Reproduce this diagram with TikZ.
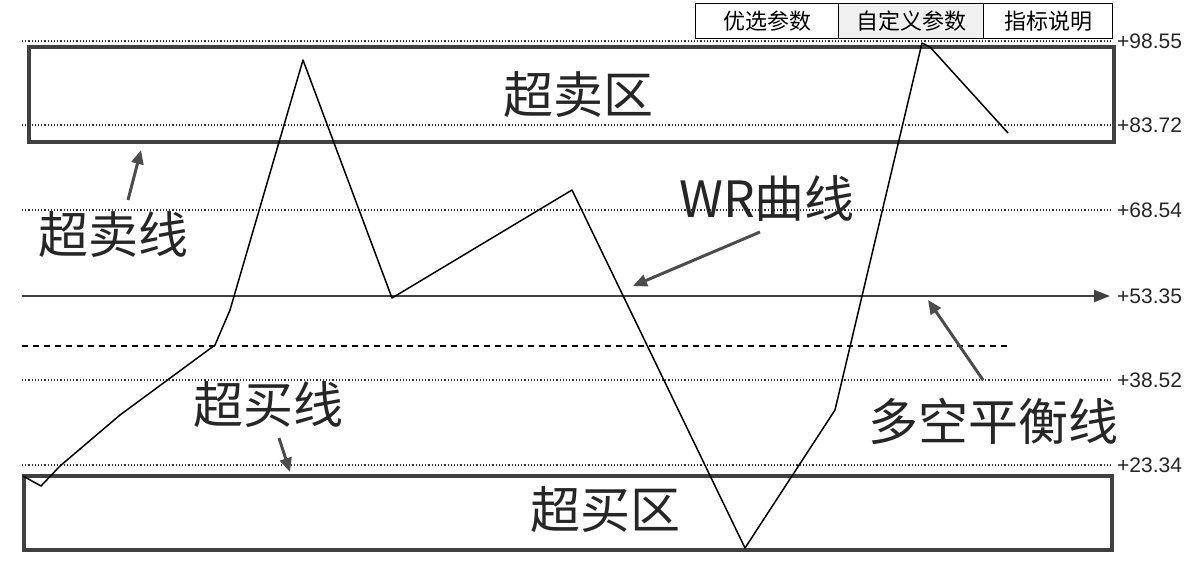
\documentclass[tikz,border=0pt]{standalone}
\usepackage{fontspec}
\setmainfont{Noto Sans CJK SC}
\newfontfamily\lab{Liberation Sans}
\usetikzlibrary{arrows.meta}
\tikzset{
 dotl/.style={dotted, line width=1.2pt, black!80},
 zone/.style={draw=black!75, line width=4pt},
 big/.style={font=\fontsize{50}{50}\selectfont, text=black!85, inner sep=0},
 tick/.style={font=\lab\fontsize{21}{21}\selectfont, anchor=west, inner sep=0, text=black!85},
 btn/.style={draw=black, line width=1pt, font=\fontsize{22}{22}\selectfont, inner sep=0, minimum height=35pt},
 callout/.style={-{Triangle[length=14pt,width=12pt]}, line width=3pt, draw=black!70},
}
\begin{document}
\begin{tikzpicture}[x=1pt,y=-1pt]
\useasboundingbox (0,0) rectangle (1202,566);
% buttons
\node[btn, minimum width=143pt, anchor=north west] (b1) at (695,3) {优选参数};
\node[btn, minimum width=145pt, fill=black!6, anchor=north west] (b2) at (838,3) {自定义参数};
\node[btn, minimum width=129pt, anchor=north west] (b3) at (983,3) {指标说明};
% grid lines
\draw[dotl] (22,41) -- (1112,41);
\draw[dotl] (22,125) -- (1112,125);
\draw[dotl] (22,210) -- (1112,210);
\draw[dotl] (22,380) -- (1112,380);
\draw[dotl] (22,465) -- (1112,465);
\draw[dashed, line width=1.3pt, dash pattern=on 6pt off 5pt] (22,346) -- (1008,346);
\coordinate (bs) at (22,296);
\coordinate (be) at (1110,296);
\draw[line width=2pt, black!75, -{Triangle[length=16pt,width=12pt]}] (bs) -- (be);
% ticks
\node[tick] (t1) at (1117,41) {+98.55};
\node[tick] (t2) at (1117,125) {+83.72};
\node[tick] (t3) at (1117,210) {+68.54};
\node[tick] (t4) at (1117,296) {+53.35};
\node[tick] (t5) at (1117,380) {+38.52};
\node[tick] (t6) at (1117,465) {+23.34};
% zones
\node[zone, minimum width=1085pt, minimum height=95pt, anchor=north west] (up) at (27,45) {};
\node[zone, minimum width=1088pt, minimum height=74pt, anchor=north west] (dn) at (22,474) {};
\node[big] at (578,95) {超卖区};
\node[big] at (605,510) {超买区};
% curve
\draw[line width=1.5pt, black, line join=round] (23,476) -- (41,486) -- (60,466) -- (120,415) -- (215,345) -- (230,310) -- (303,60) -- (392,298) -- (572,190) -- (745,548) -- (835,410) -- (922,43) -- (930,47) -- (1008,133);
% labels
\node[big] (l1) at (113,234) {超卖线};
\node[big] (l2) at (268,404) {超买线};
\node[big] (l3) at (767,198) {WR曲线};
\node[big] (l4) at (993,421) {多空平衡线};
\coordinate (a1) at (141,150);
\coordinate (a2) at (290,472);
\coordinate (a3) at (633,286);
\coordinate (a4) at (928,300);
\draw[callout] (128,200) -- (a1);
\draw[callout] (279,438) -- (a2);
\draw[callout] (760,232) -- (a3);
\draw[callout] (983,380) -- (a4);
\end{tikzpicture}
\end{document}
